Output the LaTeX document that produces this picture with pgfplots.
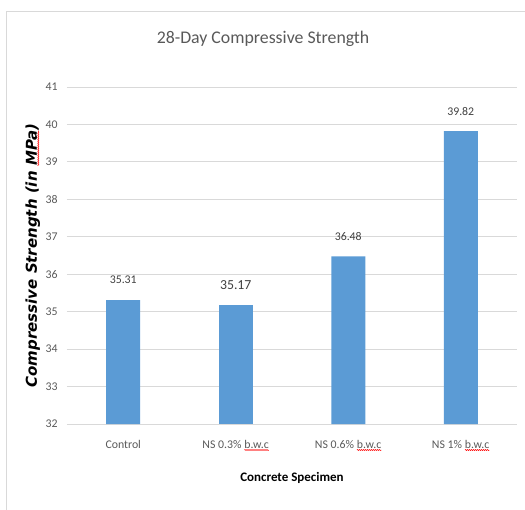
\documentclass[border=0pt]{standalone}
\usepackage{fontspec}
\setmainfont{Carlito}
\newfontfamily\ylabfont{DejaVu Sans}[BoldFont={* Bold}, ItalicFont={* Oblique}, BoldItalicFont={* Bold Oblique}]
\usepackage{pgfplots}
\pgfplotsset{compat=1.18}
\usetikzlibrary{decorations.pathmorphing}

\definecolor{barblue}{HTML}{5B9BD5}
\definecolor{gridgray}{HTML}{D9D9D9}
\definecolor{txtgray}{HTML}{595959}
\definecolor{lblgray}{HTML}{404040}

% red spell-check squiggle
\newcommand\redwave[1]{\tikz[baseline=(t.base)]{\node[inner sep=0pt, outer sep=0pt](t){#1};
    \draw[red, line width=0.5bp, decorate, decoration={snake, amplitude=0.6bp, segment length=2bp}]
    ([yshift=-1.2bp]t.south west) -- ([yshift=-1.2bp]t.south east);}}

\begin{document}
\begin{tikzpicture}
\useasboundingbox (-67bp,-86bp) rectangle (458bp,424bp);
% chart area frame (left and top edges visible)
\draw[gridgray, line width=1bp] (-60bp,-86bp) -- (-60bp,412bp) -- (458bp,412bp);
\begin{axis}[
    scale only axis,
    width=450bp,
    height=337bp,
    xmin=-0.5, xmax=3.5,
    ymin=32, ymax=41,
    ytick={32,33,...,41},
    xtick={0,1,2,3},
    xticklabels={Control, NS 0.3\% \redwave{b.w.c}, NS 0.6\% \redwave{b.w.c}, NS 1\% \redwave{b.w.c}},
    major tick length=0pt,
    axis line style={draw=none},
    ymajorgrids,
    grid style={gridgray, line width=1bp},
    /pgf/number format/assume math mode=true,
    ticklabel style={font=\fontsize{11.8bp}{13bp}\selectfont, text=txtgray},
    yticklabel style={xshift=-6bp},
    xticklabel style={yshift=-13bp},
    title={28-Day Compressive Strength},
    title style={font=\fontsize{17.8bp}{20bp}\selectfont, text=txtgray,
        at={(axis description cs:0.4356,1.1246)}, anchor=center},
    xlabel={Concrete Specimen},
    xlabel style={font=\fontsize{13bp}{15bp}\selectfont\bfseries, text=black,
        at={(axis description cs:0.5,-0.160)}, anchor=center},
    ylabel={Compressive Strength (in \redwave{MPa})},
    ylabel style={font=\ylabfont\fontsize{15bp}{17bp}\selectfont\bfseries\itshape, text=black,
        at={(axis description cs:-0.076,0.5)}, anchor=center},
    ybar,
    bar width=34bp,
    bar shift=0pt,
    nodes near coords={\pgfmathprintnumber[fixed,precision=2,fixed zerofill]{\pgfplotspointmeta}},
    every node near coord/.append style={anchor=center, yshift=20bp, text=lblgray},
]
\addplot[fill=barblue, draw=none,
    every node near coord/.append style={font=\fontsize{11.8bp}{13bp}\selectfont}]
    coordinates {(0,35.31) (2,36.48) (3,39.82)};
\addplot[fill=barblue, draw=none,
    every node near coord/.append style={font=\fontsize{13.8bp}{15bp}\selectfont}]
    coordinates {(1,35.17)};
\end{axis}
\end{tikzpicture}
\end{document}
